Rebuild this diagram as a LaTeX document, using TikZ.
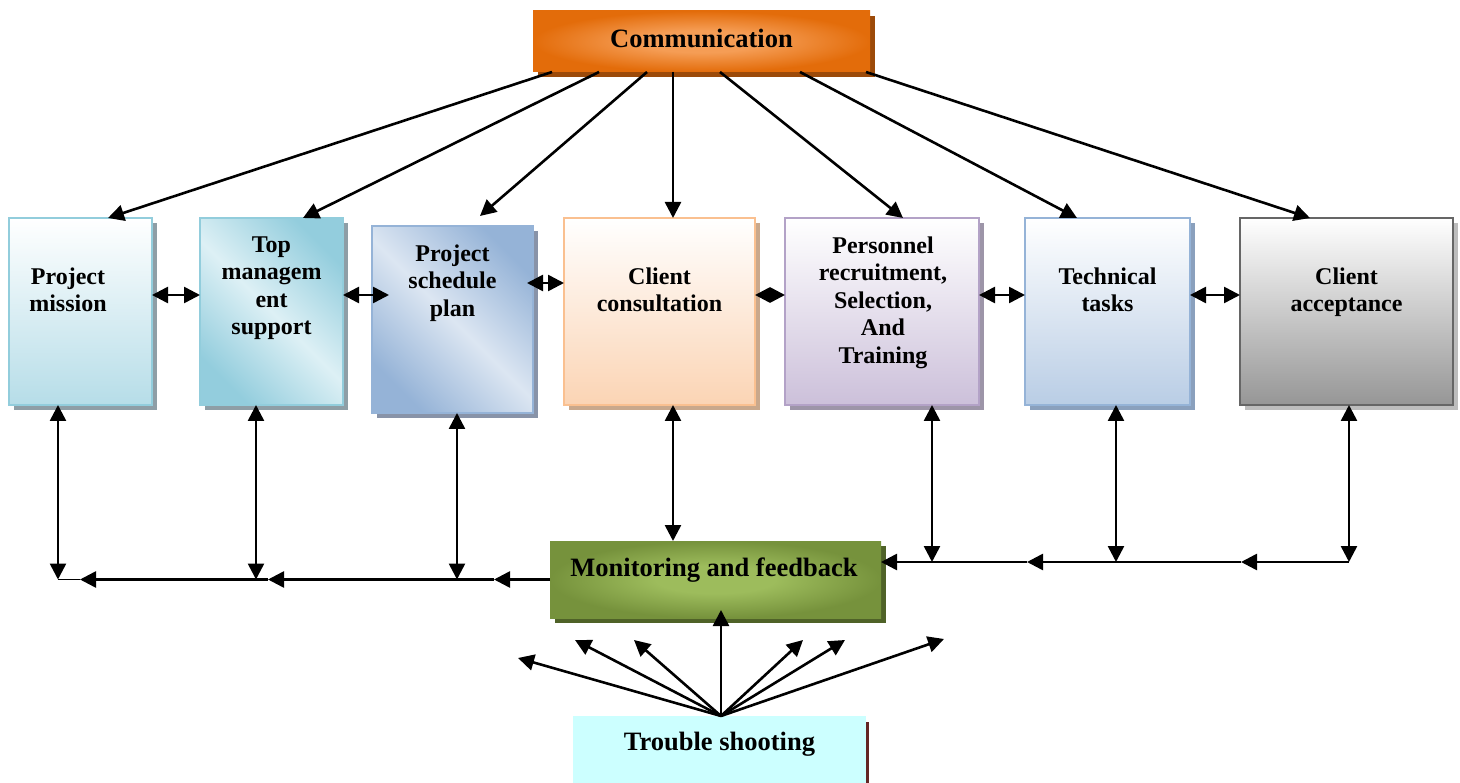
\documentclass[tikz,border=0pt]{standalone}
\usepackage{fontspec}
\setmainfont{Liberation Serif}
\usetikzlibrary{arrows.meta,shadows,calc}

% palette
\definecolor{commdark}{HTML}{E36C0A}
\definecolor{commlight}{HTML}{F59D55}
\definecolor{commshadow}{HTML}{9C4A09}
\definecolor{missionbd}{HTML}{92CDDC}
\definecolor{missionbt}{HTML}{B6DDE8}
\definecolor{tmdark}{HTML}{93CDDD}
\definecolor{tmlight}{HTML}{DDF0F5}
\definecolor{schbd}{HTML}{95B3D7}
\definecolor{schdark}{HTML}{95B3D7}
\definecolor{schlight}{HTML}{DCE6F2}
\definecolor{clientbd}{HTML}{FAC090}
\definecolor{clientbt}{HTML}{FBD4B4}
\definecolor{persbd}{HTML}{B3A2C7}
\definecolor{persbt}{HTML}{CCC0DA}
\definecolor{techbd}{HTML}{95B3D7}
\definecolor{techbt}{HTML}{B9CDE5}
\definecolor{accbd}{HTML}{666666}
\definecolor{accbt}{HTML}{969696}
\definecolor{mondark}{HTML}{76923C}
\definecolor{monlight}{HTML}{9DBC5C}
\definecolor{monshadow}{HTML}{4F6228}
\definecolor{troublefill}{HTML}{CCFFFF}
\definecolor{troubleedge}{HTML}{632523}
\definecolor{shblue}{HTML}{8E9EA6}
\definecolor{shsched}{HTML}{8893A8}
\definecolor{shclient}{HTML}{C9A88C}
\definecolor{shpers}{HTML}{9D95A8}
\definecolor{shtech}{HTML}{8AA0BD}
\definecolor{shacc}{HTML}{BDBDBD}

% central glow for the two header-style boxes
\pgfdeclareradialshading{commglow}{\pgfpoint{0bp}{0bp}}{%
  color(0bp)=(commlight); color(9bp)=(commlight); color(25bp)=(commdark); color(50bp)=(commdark)}
\pgfdeclareradialshading{monglow}{\pgfpoint{0bp}{0bp}}{%
  color(0bp)=(monlight); color(9bp)=(monlight); color(25bp)=(mondark); color(50bp)=(mondark)}

\begin{document}
\begin{tikzpicture}[x=1pt,y=-1pt,
  box/.style={rectangle, inner sep=0pt, outer sep=0pt, line width=2.4pt},
  shadowed/.style={drop shadow={shadow xshift=5pt, shadow yshift=-5pt, fill=#1, opacity=1}},
  lbl/.style={font=\fontsize{24}{27.5}\selectfont\bfseries, align=center, inner sep=0pt, anchor=north},
  biglbl/.style={font=\fontsize{26.5}{30}\selectfont\bfseries, inner sep=0pt, anchor=base},
  conn/.style={line width=2.6pt, -{Triangle[length=16pt,width=16pt]}},
  dbl/.style={line width=2.6pt, {Triangle[length=16pt,width=16pt]}-{Triangle[length=16pt,width=16pt]}},
  diamondlink/.style={line width=2.6pt, {Triangle[length=15pt,width=15pt]}-{Triangle[length=15pt,width=15pt]}},
  thinline/.style={line width=1.2pt}
]
\fill[white] (0,0) rectangle (1460,783);
\useasboundingbox (0,0) rectangle (1460,783);

% top box
\node[box, shade, shading=commglow, shadowed=commshadow,
      minimum width=337pt, minimum height=61pt] (comm) at (701.5,41.5) {};
\node[biglbl] (commtxt) at ([yshift=-6pt]comm.center) {Communication};

% row of activity boxes
\node[box, draw=missionbd, top color=white, bottom color=missionbt, shadowed=shblue,
      minimum width=143pt, minimum height=187pt] (mission) at (80.5,311.5) {};
\node[box, draw=missionbd, top color=tmdark, bottom color=tmdark, middle color=tmlight,
      shading angle=-45, shadowed=shblue,
      minimum width=143pt, minimum height=187pt] (topmgmt) at (271.5,311.5) {};
\node[box, draw=schbd, top color=schdark, bottom color=schdark, middle color=schlight,
      shading angle=-45, shadowed=shsched,
      minimum width=161pt, minimum height=187pt] (schedule) at (452.5,319.5) {};
\node[box, draw=clientbd, top color=white, bottom color=clientbt, shadowed=shclient,
      minimum width=191pt, minimum height=187pt] (client) at (659.5,311.5) {};
\node[box, draw=persbd, top color=white, bottom color=persbt, shadowed=shpers,
      minimum width=194pt, minimum height=187pt] (personnel) at (882,311.5) {};
\node[box, draw=techbd, top color=white, bottom color=techbt, shadowed=shtech,
      minimum width=165pt, minimum height=187pt] (technical) at (1107.5,311.5) {};
\node[box, draw=accbd, top color=white, bottom color=accbt, shadowed=shacc,
      minimum width=213pt, minimum height=187pt] (acceptance) at (1346.5,311.5) {};

\node[lbl] (missiontxt) at ([xshift=-12.5pt,yshift=-49.5pt]mission.north) {Project\\mission};
\node[lbl] (topmgmttxt) at ([yshift=-18.5pt]topmgmt.north) {Top\\managem\\ent\\support};
\node[lbl] (scheduletxt) at ([yshift=-18.5pt]schedule.north) {Project\\schedule\\plan};
\node[lbl] (clienttxt) at ([yshift=-49.5pt]client.north) {Client\\consultation};
\node[lbl] (personneltxt) at ([xshift=1pt,yshift=-18.5pt]personnel.north) {Personnel\\recruitment,\\Selection,\\And\\Training};
\node[lbl] (technicaltxt) at ([yshift=-49.5pt]technical.north) {Technical\\tasks};
\node[lbl] (acceptancetxt) at ([yshift=-49.5pt]acceptance.north) {Client\\acceptance};

% feedback and trouble shooting boxes
\node[box, shade, shading=monglow, shadowed=monshadow,
      minimum width=331pt, minimum height=77pt] (monitor) at (715.5,579.5) {};
\node[biglbl] (monitortxt) at ([xshift=-1.5pt,yshift=3.5pt]monitor.center) {Monitoring and feedback};

\node[box, fill=troublefill, minimum width=293pt, minimum height=67pt] (trouble) at (719.5,749.5) {};
\draw[troubleedge, line width=2.2pt] ([xshift=1.5pt,yshift=-6pt]trouble.north east) -- ([xshift=1.5pt]trouble.south east);
\node[biglbl] (troubletxt) at ([yshift=-0.5pt]trouble.center) {Trouble shooting};

% communication fan-out
\draw[conn] ([xshift=19pt]comm.south west)  -- ([xshift=99pt]mission.north west);
\draw[conn] ([xshift=66pt]comm.south west)  -- ([xshift=103pt]topmgmt.north west);
\draw[conn] ([xshift=114pt]comm.south west) -- ([xshift=108pt,yshift=10pt]schedule.north west);
\draw[conn] ([xshift=140pt]comm.south west) -- ([xshift=109pt]client.north west);
\draw[conn] ([xshift=187pt]comm.south west) -- ([xshift=118pt]personnel.north west);
\draw[conn] ([xshift=267pt]comm.south west) -- ([xshift=52pt]technical.north west);
\draw[conn] ([xshift=333pt]comm.south west) -- ([xshift=70pt]acceptance.north west);

% links between neighbouring boxes
\coordinate (midrow) at (0,295);
\coordinate (schrow) at (0,283);
\draw[dbl] (mission.east |- midrow) -- (topmgmt.west |- midrow);
\draw[dbl] (topmgmt.east |- midrow) -- ([xshift=17pt]schedule.west |- midrow);
\draw[dbl] ([xshift=-6pt]schedule.east |- schrow) -- (client.west |- schrow);
\draw[diamondlink] (client.east |- midrow) -- (personnel.west |- midrow);
\draw[dbl] (personnel.east |- midrow) -- (technical.west |- midrow);
\draw[dbl] (technical.east |- midrow) -- (acceptance.west |- midrow);

% feedback buses
\coordinate (vm) at (58,579.5);
\coordinate (vt) at (256,579.5);
\coordinate (vs) at (457,579.5);
\coordinate (vc) at (673,0);
\coordinate (vp) at (932,562);
\coordinate (vtt) at (1116,562);
\coordinate (va) at (1349,562);
\coordinate (hl1) at (80,579.5);
\coordinate (hl2) at (268,579.5);
\coordinate (hl3) at (494,579.5);
\coordinate (hr1) at (1241,562);
\coordinate (hr2) at (1027,562);

\draw[dbl] (vm |- mission.south) -- (vm);
\draw[dbl] (vt |- topmgmt.south) -- (vt);
\draw[dbl] (vs |- schedule.south) -- (vs);
\draw[dbl] (vc |- client.south) -- (vc |- monitor.north);
\draw[dbl] (vp |- personnel.south) -- (vp);
\draw[dbl] (vtt |- technical.south) -- (vtt);
\draw[dbl] (va |- acceptance.south) -- (va);

\draw[conn] (monitor.west) -- (hl3);
\draw[conn] (hl3) -- (hl2);
\draw[conn] (hl2) -- (hl1);
\draw[thinline] (hl1) -- (vm);

\draw[conn] (va) -- (hr1);
\draw[conn] (hr1) -- (hr2);
\draw[conn] (hr2) -- (monitor.east |- va);

% trouble shooting fan
\coordinate (tsrc) at ([xshift=1.5pt]trouble.north);
\coordinate (t1) at (518,658);
\coordinate (t2) at (575,640);
\coordinate (t3) at (634,640);
\coordinate (t5) at (803,640);
\coordinate (t6) at (845,640);
\coordinate (t7) at (944,639);
\draw[conn] (tsrc) -- (t1);
\draw[conn] (tsrc) -- (t2);
\draw[conn] (tsrc) -- (t3);
\draw[conn] (tsrc) -- ([yshift=8pt]tsrc |- monitor.south);
\draw[conn] (tsrc) -- (t5);
\draw[conn] (tsrc) -- (t6);
\draw[conn] (tsrc) -- (t7);
\end{tikzpicture}
\end{document}
